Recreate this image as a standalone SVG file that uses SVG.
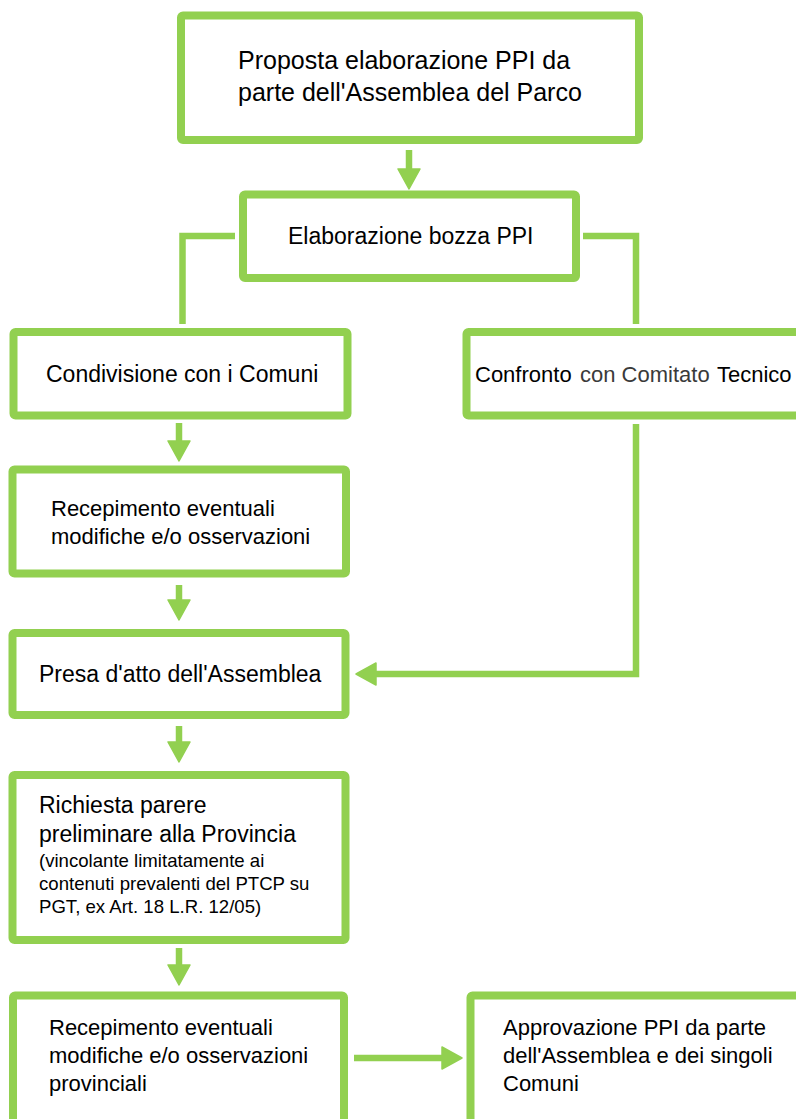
<svg xmlns="http://www.w3.org/2000/svg" width="796" height="1119" viewBox="0 0 796 1119">
<style>
.box{fill:#fff;stroke:#92D050;stroke-width:8;}
.con{fill:none;stroke:#92D050;stroke-width:6.5;}
text{font-family:"Liberation Sans",Arial,sans-serif;fill:#000;}
.t25{font-size:25px;}
.t23{font-size:23px;}
.t22{font-size:22px;}
.t18{font-size:18.6px;}
.grey{fill:#3a3a3a;}
</style>
<defs>
<marker id="ah" markerUnits="userSpaceOnUse" markerWidth="24" markerHeight="26" refX="1" refY="12" orient="auto">
<path d="M1,1 L21,12 L1,23 Z" fill="#92D050" stroke="#92D050" stroke-width="1.5" stroke-linejoin="round"/>
</marker>
</defs>
<rect width="796" height="1119" fill="#fff"/>
<g id="connectors">
<line class="con" x1="409" y1="150" x2="409" y2="169" marker-end="url(#ah)"/>
<path class="con" d="M235,236 H182.5 V324"/>
<path class="con" d="M583,236 H636 V324"/>
<line class="con" x1="179" y1="423" x2="179" y2="441" marker-end="url(#ah)"/>
<line class="con" x1="179" y1="585" x2="179" y2="600" marker-end="url(#ah)"/>
<path class="con" d="M636,424 V674 H376" marker-end="url(#ah)"/>
<line class="con" x1="179" y1="726" x2="179" y2="742" marker-end="url(#ah)"/>
<line class="con" x1="179" y1="948" x2="179" y2="965" marker-end="url(#ah)"/>
<line class="con" x1="354" y1="1058" x2="442" y2="1058" marker-end="url(#ah)"/>
</g>
<g id="n1">
<rect class="box" x="181" y="15.5" width="458" height="124.5" rx="2"/>
<text class="t25" x="238" y="69">Proposta elaborazione PPI da</text>
<text class="t25" x="238" y="101">parte dell'Assemblea del Parco</text>
</g>
<g id="n2">
<rect class="box" x="243" y="194.5" width="333" height="83.5" rx="2"/>
<text class="t23" x="288" y="244">Elaborazione bozza PPI</text>
</g>
<g id="n3">
<rect class="box" x="13.5" y="332" width="334" height="83.5" rx="2"/>
<text class="t23" x="46" y="382">Condivisione con i Comuni</text>
</g>
<g id="n4">
<rect class="box" x="12.5" y="469.5" width="333.5" height="104" rx="2"/>
<text class="t22" x="51" y="516">Recepimento eventuali</text>
<text class="t22" x="51" y="544">modifiche e/o osservazioni</text>
</g>
<g id="n5">
<rect class="box" x="466.5" y="332" width="400" height="83.5" rx="2"/>
<text class="t22" y="382"><tspan x="475">Confronto</tspan><tspan class="grey" x="580">con Comitato</tspan><tspan x="717">Tecnico</tspan></text>
</g>
<g id="n6">
<rect class="box" x="12.5" y="633" width="333" height="82" rx="2"/>
<text class="t23" x="39" y="682">Presa d'atto dell'Assemblea</text>
</g>
<g id="n7">
<rect class="box" x="12.5" y="775" width="333" height="165" rx="2"/>
<text class="t23" x="39" y="813">Richiesta parere</text>
<text class="t23" x="39" y="842">preliminare alla Provincia</text>
<text class="t18" x="39" y="867">(vincolante limitatamente ai</text>
<text class="t18" x="39" y="890">contenuti prevalenti del PTCP su</text>
<text class="t18" x="39" y="913">PGT, ex Art. 18 L.R. 12/05)</text>
</g>
<g id="n8">
<rect class="box" x="13" y="995.5" width="331" height="200" rx="2"/>
<text class="t22" x="49" y="1035">Recepimento eventuali</text>
<text class="t22" x="49" y="1063">modifiche e/o osservazioni</text>
<text class="t22" x="49" y="1091">provinciali</text>
</g>
<g id="n9">
<rect class="box" x="470.5" y="995.5" width="400" height="200" rx="2"/>
<text class="t22" x="503" y="1035">Approvazione PPI da parte</text>
<text class="t22" x="503" y="1063">dell'Assemblea e dei singoli</text>
<text class="t22" x="503" y="1091">Comuni</text>
</g>
</svg>
